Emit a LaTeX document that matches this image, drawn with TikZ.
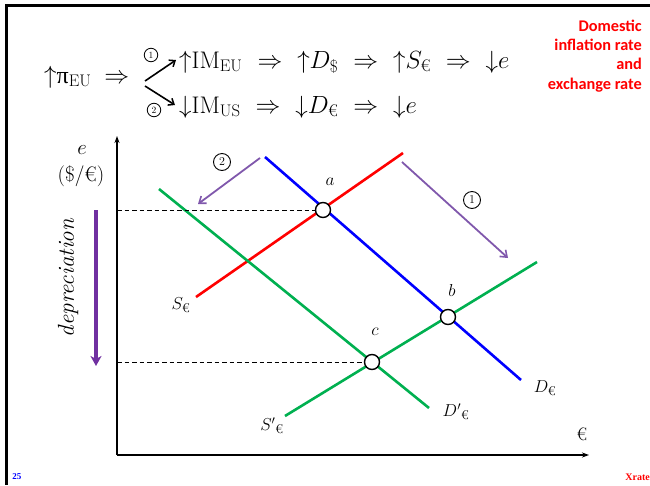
\documentclass[tikz,border=0pt]{standalone}
\usepackage{amsmath}
\usepackage{fontspec}
\newfontfamily\carlito{Carlito}
\newfontfamily\libserif{Liberation Serif}
\usetikzlibrary{arrows.meta}
\definecolor{ogreen}{RGB}{0,176,80}
\definecolor{opurple}{RGB}{112,48,160}
\definecolor{apurple}{RGB}{128,88,172}
\newcommand{\eur}{\text{€}}
\newcommand{\imp}{\hspace{8pt}\Rightarrow\hspace{8pt}}
\newcommand{\up}{{\uparrow}}
\newcommand{\dn}{{\downarrow}}
\begin{document}
\begin{tikzpicture}[x=1pt,y=-1pt,
  curve/.style={line width=2.6pt},
  axis/.style={line width=1.3pt,-{Stealth[length=7pt,width=5pt]}},
  eqpt/.style={circle,draw=black,fill=white,line width=1.4pt,minimum size=15pt,inner sep=0pt},
  lab/.style={font=\fontsize{18}{20}\selectfont,inner sep=0pt},
  shiftarrow/.style={apurple,line width=1.8pt,-{Straight Barb[length=6pt,width=9pt,line width=1.6pt]}},
  circnum/.style={circle,draw=black,line width=0.9pt,minimum size=17pt,inner sep=0pt,font=\fontsize{12}{12}\selectfont},
  smallcirc/.style={circle,draw=black,line width=0.8pt,minimum size=13.5pt,inner sep=0pt,font=\fontsize{9.5}{10}\selectfont},
  eq/.style={font=\fontsize{24}{28}\selectfont,inner sep=0pt,anchor=base west},
  redtxt/.style={font=\carlito\bfseries\fontsize{16.3}{19.3}\selectfont,text=red,align=right,anchor=north east,inner sep=0pt}]
\useasboundingbox (0,0) rectangle (650,485);
% frame
\draw[line width=3pt] (650,5) -- (6.5,5) -- (6.5,485);
% formula
\node[eq] (pi) at (44,83) {$\up\text{\libserif π}_{\mathrm{EU}}\hspace{6pt}\Rightarrow$};
\node[eq] (top) at (179,68) {$\up\mathrm{IM}_{\mathrm{EU}}\imp\up D_{\$}\imp\up S_{\eur}\imp\dn e$};
\node[eq] (bot) at (179,113) {$\dn\mathrm{IM}_{\mathrm{US}}\imp\dn D_{\eur}\imp\dn e$};
\coordinate (fork1) at (145,81);
\coordinate (fork2) at (145,86);
\coordinate (tip1) at (176,60);
\coordinate (tip2) at (175,105);
\draw[line width=1.6pt,-{Straight Barb[length=5pt,width=8pt,line width=1.5pt]}] (fork1) -- (tip1);
\draw[line width=1.6pt,-{Straight Barb[length=5pt,width=8pt,line width=1.5pt]}] (fork2) -- (tip2);
\node[smallcirc] (n1) at (151,55) {1};
\node[smallcirc] (n2) at (154,110) {2};
% red title
\node[redtxt] (title) at (642,19.5) {Domestic\\inflation rate\\and\\exchange rate};
% axes
\coordinate (O) at (117,455);
\coordinate (ytop) at (117,136);
\coordinate (xend) at (589,455);
\draw[axis] (O) -- (ytop);
\draw[axis] (O) -- (xend);
\node[font=\fontsize{21}{23}\selectfont,inner sep=0pt] (elab) at (82,150) {$e$};
\node[font=\fontsize{21}{23}\selectfont,inner sep=0pt] (unit) at (81,176) {(\$/€)};
\node[lab] (eurlab) at (582,434) {€};
% curves
\coordinate (S1) at (196,297); \coordinate (S2) at (403,153);
\coordinate (D1) at (265,157); \coordinate (D2) at (521,380);
\coordinate (Dp1) at (159,189); \coordinate (Dp2) at (429,408);
\coordinate (Sp1) at (285,416); \coordinate (Sp2) at (537,262);
\draw[curve,red] (S1) -- (S2);
\draw[curve,blue] (D1) -- (D2);
\draw[curve,ogreen] (Dp1) -- (Dp2);
\draw[curve,ogreen] (Sp1) -- (Sp2);
% points
\node[eqpt] (a) at (323,210) {};
\node[eqpt] (b) at (448,317) {};
\node[eqpt] (c) at (372,362) {};
% dashed
\coordinate (ya) at (117,210);
\coordinate (yc) at (117,362);
\draw[line width=0.9pt,dash pattern=on 4.5pt off 3pt] (ya) -- (a.west);
\draw[line width=0.9pt,dash pattern=on 4.5pt off 3pt] (yc) -- (c.west);
\node[lab] (la) at (330,182) {$a$};
\node[lab] (lb) at (452,290) {$b$};
\node[lab] (lc) at (375,332) {$c$};
\node[lab] (lS) at (181,305) {$S_{\eur}$};
\node[lab] (lD) at (545,388) {$D_{\eur}$};
\node[lab] (lDp) at (456,412) {${D'}_{\eur}$};
\node[lab] (lSp) at (272,426) {${S'}_{\eur}$};
% shift arrows
\coordinate (a2s) at (260,158); \coordinate (a2e) at (198,204);
\coordinate (a1s) at (402,162); \coordinate (a1e) at (508,258);
\draw[shiftarrow] (a2s) -- (a2e);
\draw[shiftarrow] (a1s) -- (a1e);
\node[circnum] (c2) at (222,162) {2};
\node[circnum] (c1) at (472,200) {1};
% depreciation
\coordinate (dep1) at (96,210); \coordinate (dep2) at (96,366);
\draw[opurple,line width=3.2pt,-{Stealth[length=10pt,width=11pt,inset=3pt]}] (dep1) -- (dep2);
\node[font=\fontsize{23}{25}\selectfont,rotate=90,inner sep=0pt] (dep) at (68,278) {\itshape depreciation};
% footer
\node[font=\libserif\bfseries\fontsize{9}{10}\selectfont,text=blue,inner sep=0pt] (pg) at (17,477) {25};
\node[font=\libserif\bfseries\fontsize{10}{11}\selectfont,text=red,anchor=east,inner sep=0pt] (xr) at (650,477) {Xrate};
\end{tikzpicture}
\end{document}
